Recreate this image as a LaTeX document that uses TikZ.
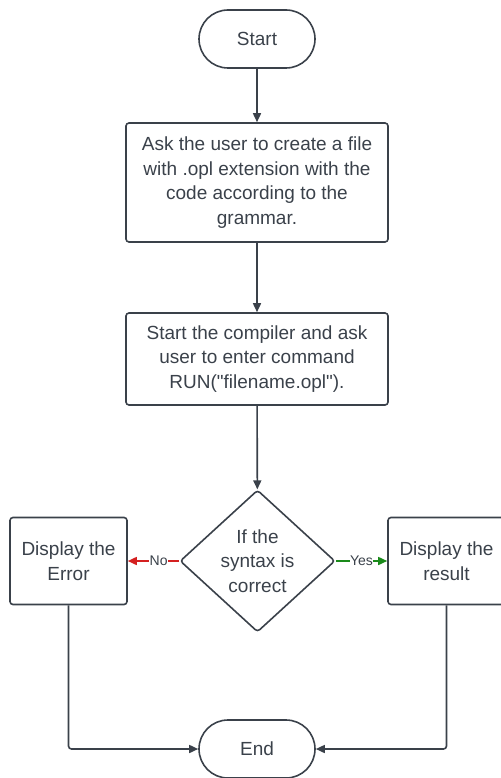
\documentclass[tikz,border=0pt]{standalone}
\usepackage{fontspec}
\setmainfont{Liberation Sans}
\usetikzlibrary{shapes.geometric,arrows.meta}
\definecolor{ln}{HTML}{3A414A}
\definecolor{rd}{HTML}{D42020}
\definecolor{gr}{HTML}{1A8A1A}
\begin{document}
\begin{tikzpicture}[x=1pt,y=-1pt,
  every node/.style={font=\fontsize{19}{24.5}\selectfont, text=ln, align=center},
  box/.style={draw=ln, line width=1.6pt, rounded corners=3pt, minimum width=#1, inner sep=0pt},
  term/.style={draw=ln, line width=1.6pt, rounded corners=29pt, minimum width=116pt, minimum height=58pt, inner sep=0pt},
  dec/.style={draw=ln, line width=1.6pt, diamond, rounded corners=3pt, minimum width=155pt, minimum height=142pt, inner sep=0pt},
  conn/.style={draw=ln, line width=1.6pt, -{Triangle[length=9pt,width=8pt]}},
  lbl/.style={font=\fontsize{14}{16}\selectfont, text=ln, fill=white, inner sep=0.3pt}
]
\useasboundingbox (0,0) rectangle (500,778);
\node[term] (start) at (257,39) {Start};
\node[box=262pt, minimum height=119pt] (ask) at (257,182.5) {Ask the user to create a file\\with .opl extension with the\\code according to the\\grammar.};
\node[box=262pt, minimum height=92pt] (run) at (257,359) {Start the compiler and ask\\user to enter command\\RUN(\textquotedbl filename.opl\textquotedbl).};
\node[dec] (cond) at (257.5,561) {If the\\syntax is\\correct};
\node[box=117pt, minimum height=87pt] (err) at (68.5,561) {Display the\\Error};
\node[box=117pt, minimum height=87pt] (res) at (446.5,561) {Display the\\result};
\node[term] (end) at (257,749) {End};
\coordinate (lc) at (68.5,749);
\coordinate (rc) at (446.5,749);

\draw[conn] (start) -- (ask);
\draw[conn] (ask) -- (run);
\draw[conn] (run) -- (cond);
\draw[line width=1.6pt, draw=rd, -{Triangle[length=9pt,width=8pt]}] (cond.west) -- node[lbl, pos=0.4]{No} (err.east);
\draw[line width=1.6pt, draw=gr, fill=gr, -{Triangle[length=9pt,width=8pt]}] (cond.east) -- node[lbl, pos=0.5]{Yes} (res.west);
\draw[conn, rounded corners=3pt] (err.south) -- (lc) -- (end.west);
\draw[conn, rounded corners=3pt] (res.south) -- (rc) -- (end.east);
\end{tikzpicture}
\end{document}
